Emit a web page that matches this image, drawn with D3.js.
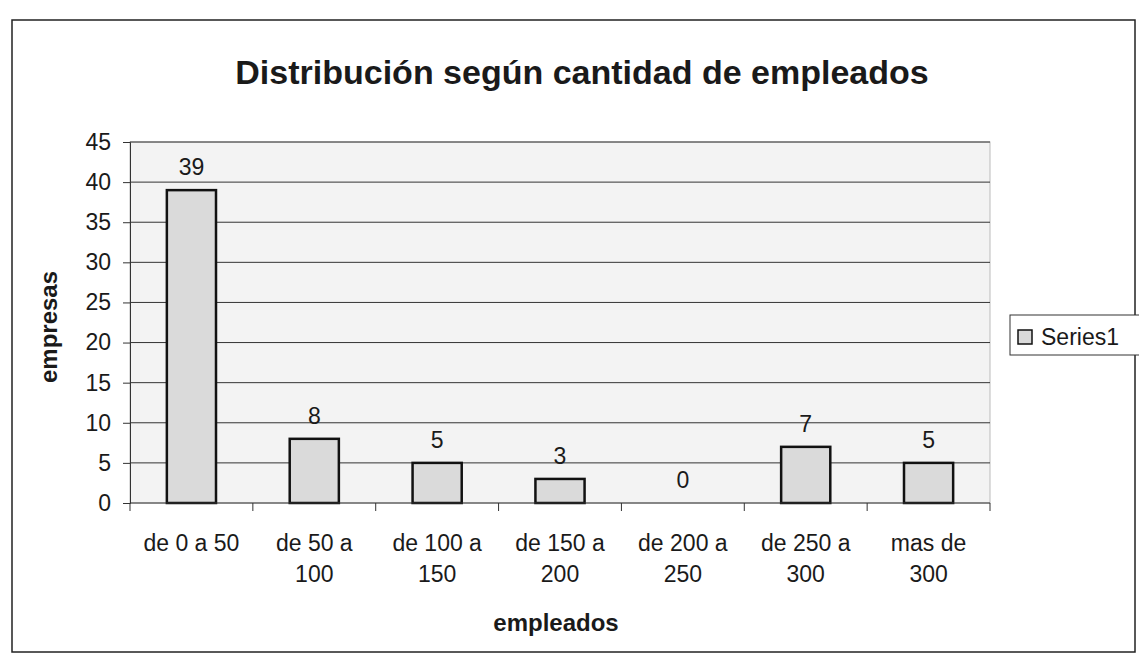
<!DOCTYPE html>
<html>
<head>
<meta charset="utf-8">
<script src="https://cdn.jsdelivr.net/npm/d3@7"></script>
<style>
  body { margin: 0; background: #fff; }
  text { font-family: "Liberation Sans", Arial, sans-serif; fill: #1a1a1a; }
</style>
</head>
<body>
<div id="chart"></div>
<script>
// datos
const categorias = [
    ["de 0 a 50"],
    ["de 50 a", "100"],
    ["de 100 a", "150"],
    ["de 150 a", "200"],
    ["de 200 a", "250"],
    ["de 250 a", "300"],
    ["mas de", "300"]
];
const empresas = [39, 8, 5, 3, 0, 7, 5];
const yTicks = [0, 5, 10, 15, 20, 25, 30, 35, 40, 45];
const nombreSerie = "Series1";

const width = 1139, height = 659;
const plotLeft = 130, plotRight = 990, plotTop = 142, plotBottom = 503;

const svg = d3.select('#chart')
    .append('svg')
        .attr('width', width)
        .attr('height', height);

// marco del grafico
svg.append('rect')
    .attr('x', 12).attr('y', 20)
    .attr('width', 1123).attr('height', 632)
    .attr('fill', '#fff')
    .attr('stroke', '#222')
    .attr('stroke-width', 1.5);

const x = d3.scaleBand()
    .domain(d3.range(categorias.length))
    .range([plotLeft, plotRight])
    .paddingInner(0.6)
    .paddingOuter(0.3);

const y = d3.scaleLinear()
    .domain([0, 45])
    .range([plotBottom, plotTop]);

// area de trazado
svg.append('rect')
    .attr('x', plotLeft).attr('y', plotTop)
    .attr('width', plotRight - plotLeft).attr('height', plotBottom - plotTop)
    .attr('fill', '#f3f3f3')
    .attr('stroke', '#bbb');

// lineas de division
svg.append('g')
    .selectAll('line')
    .data(yTicks.filter(d => d > 0))
    .enter().append('line')
        .attr('x1', plotLeft).attr('x2', plotRight)
        .attr('y1', d => y(d)).attr('y2', d => y(d))
        .attr('stroke', '#333')
        .attr('stroke-width', 1);

// barras
svg.append('g')
    .selectAll('rect')
    .data(empresas)
    .enter().append('rect')
        .attr('x', (d, i) => x(i))
        .attr('y', d => y(d))
        .attr('width', x.bandwidth())
        .attr('height', d => plotBottom - y(d))
        .attr('fill', '#dadada')
        .attr('stroke', '#111')
        .attr('stroke-width', 2.5);

// etiquetas de datos
svg.append('g')
    .selectAll('text')
    .data(empresas)
    .enter().append('text')
        .attr('x', (d, i) => x(i) + x.bandwidth() / 2)
        .attr('y', d => y(d) - 15)
        .attr('text-anchor', 'middle')
        .attr('font-size', 23)
        .text(d => d);

// eje Y
const yAxis = d3.axisLeft(y).tickValues(yTicks).tickSize(7).tickPadding(12);
svg.append('g')
    .attr('transform', `translate(${plotLeft},0)`)
    .call(yAxis)
    .call(g => g.select('.domain').attr('stroke', '#333'))
    .call(g => g.selectAll('.tick line').attr('stroke', '#333'))
    .call(g => g.selectAll('.tick text')
        .attr('font-size', 23)
        .attr('fill', '#1a1a1a')
        .attr('font-family', '"Liberation Sans", Arial, sans-serif'));

// eje X
const step = (plotRight - plotLeft) / categorias.length;
svg.append('line')
    .attr('x1', plotLeft).attr('x2', plotRight)
    .attr('y1', plotBottom).attr('y2', plotBottom)
    .attr('stroke', '#333');
svg.append('g')
    .selectAll('line')
    .data(d3.range(categorias.length + 1))
    .enter().append('line')
        .attr('x1', i => plotLeft + i * step).attr('x2', i => plotLeft + i * step)
        .attr('y1', plotBottom).attr('y2', plotBottom + 8)
        .attr('stroke', '#333');

const etiquetas = svg.append('g')
    .selectAll('text')
    .data(categorias)
    .enter().append('text')
        .attr('x', (d, i) => x(i) + x.bandwidth() / 2)
        .attr('y', 551)
        .attr('text-anchor', 'middle')
        .attr('font-size', 23);
etiquetas.selectAll('tspan')
    .data(d => d)
    .enter().append('tspan')
        .attr('x', function() { return this.parentNode.getAttribute('x'); })
        .attr('dy', (d, i) => i === 0 ? 0 : 31)
        .text(d => d);

// titulos
svg.append('text')
    .attr('x', 582).attr('y', 84)
    .attr('text-anchor', 'middle')
    .attr('font-size', 34)
    .attr('font-weight', 'bold')
    .text('Distribución según cantidad de empleados');

svg.append('text')
    .attr('x', 556).attr('y', 631)
    .attr('text-anchor', 'middle')
    .attr('font-size', 24)
    .attr('font-weight', 'bold')
    .text('empleados');

svg.append('text')
    .attr('transform', `translate(57,327) rotate(-90)`)
    .attr('text-anchor', 'middle')
    .attr('font-size', 24)
    .attr('font-weight', 'bold')
    .text('empresas');

// leyenda
const legend = svg.append('g').attr('transform', 'translate(1010,315)');
legend.append('rect')
    .attr('width', 140).attr('height', 40)
    .attr('fill', '#fff')
    .attr('stroke', '#333');
legend.append('rect')
    .attr('x', 8).attr('y', 15)
    .attr('width', 14).attr('height', 14)
    .attr('fill', '#dadada')
    .attr('stroke', '#111')
    .attr('stroke-width', 1.5);
legend.append('text')
    .attr('x', 31).attr('y', 30)
    .attr('font-size', 23)
    .text(nombreSerie);
</script>
</body>
</html>
